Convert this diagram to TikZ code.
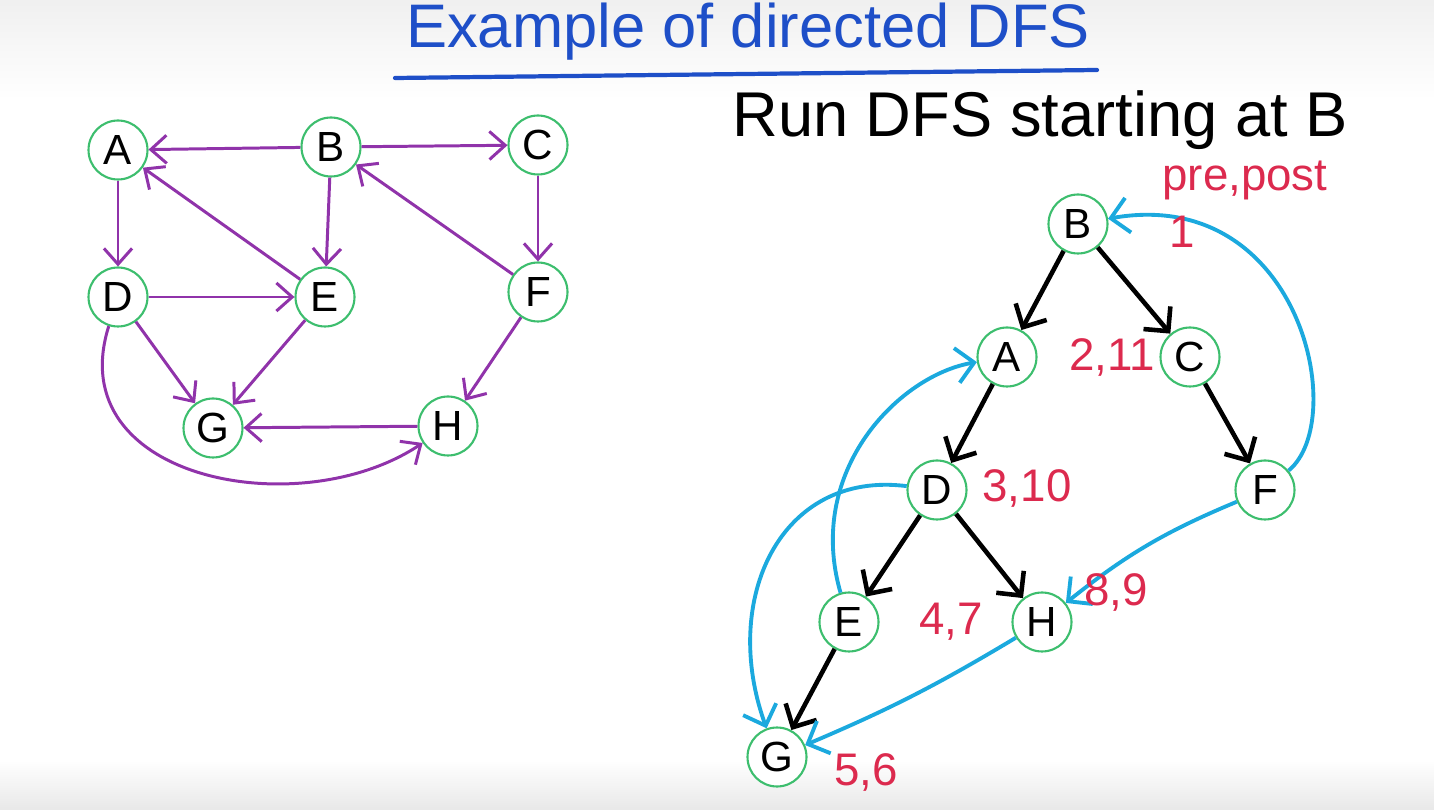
\documentclass[tikz,border=0pt]{standalone}
\usepackage{fontspec}
\setmainfont{Liberation Sans}
\usetikzlibrary{arrows.meta}

\begin{document}
\begin{tikzpicture}[x=0.02cm, y=-0.02cm,
    vertex/.style={circle, draw=vertexGreen, line width=1.2pt, fill=white,
        minimum size=1.18cm, inner sep=0pt, font=\fontsize{24}{24}\selectfont},
    graphEdge/.style={draw=edgePurple, line width=1.7pt,
        -{Straight Barb[length=9pt,width=16pt]}},
    treeEdge/.style={draw=black, line width=2.6pt,
        -{Straight Barb[length=10pt,width=20pt]}},
    backEdge/.style={draw=backBlue, line width=2.2pt,
        -{Straight Barb[length=10pt,width=20pt]}},
    prepost/.style={text=labelRed, inner sep=1pt, font=\fontsize{26}{26}\selectfont}]

    \definecolor{vertexGreen}{HTML}{3DBE6E}
    \definecolor{edgePurple}{HTML}{9033AA}
    \definecolor{backBlue}{HTML}{1BA9DE}
    \definecolor{labelRed}{HTML}{DC2A4E}
    \definecolor{titleBlue}{HTML}{1E4FC8}

    % Fix the page size
    \useasboundingbox (0,0) rectangle (1434,810);
    \fill[top color=gray!12, bottom color=white] (0,0) rectangle (1434,100);
    \fill[top color=white, bottom color=gray!18] (0,760) rectangle (1434,810);

    % Title
    \node[text=titleBlue, inner sep=1pt, font=\fontsize{35}{35}\selectfont] (title) at (748,32) {Example of directed DFS};
    \draw[titleBlue, line width=2.4pt, line cap=round] (395,78) -- (1097,70);
    \node[inner sep=1pt, font=\fontsize{36}{36}\selectfont] (task) at (1040,120) {Run DFS starting at B};

    % Directed graph
    \foreach \n/\x/\y in {A/118/150, B/331/147, C/538/145, D/118/297,
                          E/325/297, F/538/292, G/213/428, H/448/426}
        \node[vertex] (g\n) at (\x,\y) {\n};

    \foreach \u/\v in {B/A, B/C, B/E, A/D, E/A, D/E, D/G, E/G,
                       F/B, C/F, F/H, H/G}
        \draw[graphEdge] (g\u) -- (g\v);
    \draw[graphEdge] (gD) .. controls (60,480) and (300,525) .. (gH);

    % DFS tree from B
    \foreach \n/\x/\y in {B/1078/224, A/1007/357, C/1190/357, D/937/490,
                          F/1265/490, E/849/622, H/1042/622, G/777/757}
        \node[vertex] (t\n) at (\x,\y) {\n};

    \foreach \u/\v in {B/A, B/C, A/D, C/F, D/E, D/H, E/G}
        \draw[treeEdge] (t\u) -- (t\v);

    % Non-tree edges
    \draw[backEdge] (tF) .. controls (1350,420) and (1300,185) .. (tB);
    \draw[backEdge] (tE) .. controls (805,470) and (900,375) .. (tA);
    \draw[backEdge] (tD) .. controls (780,470) and (720,600) .. (tG);
    \draw[backEdge] (tF) to[bend right=8] (tH);
    \draw[backEdge] (tH) to[bend left=4] (tG);

    % Pre and post numbers
    \node[prepost] (lblHead) at (1245,180) {pre,post};
    \node[prepost] (lblB) at (1182,232) {1};
    \node[prepost] (lblA) at (1112,357) {2,11};
    \node[prepost] (lblD) at (1027,488) {3,10};
    \node[prepost] (lblE) at (951,622) {4,7};
    \node[prepost] (lblH) at (1116,592) {8,9};
    \node[prepost] (lblG) at (866,772) {5,6};

\end{tikzpicture}
\end{document}
